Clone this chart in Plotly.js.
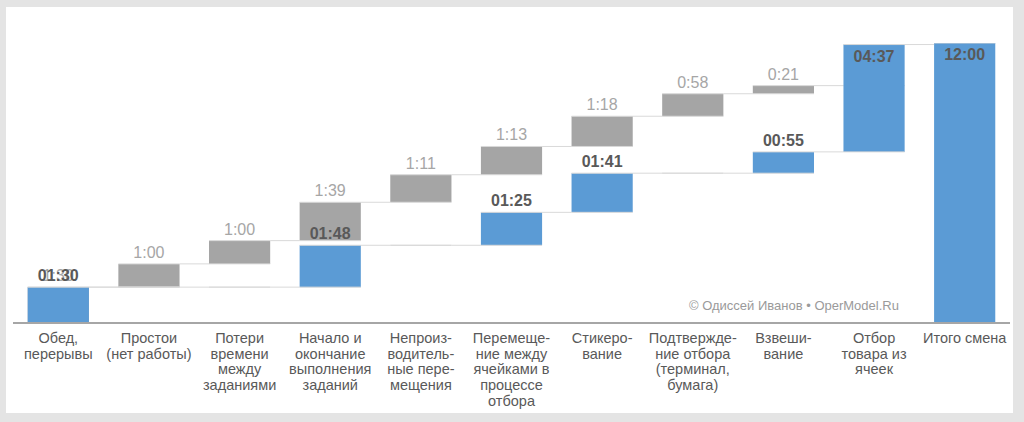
<!DOCTYPE html>
<html>
<head>
<meta charset="utf-8">
<script src="https://cdn.plot.ly/plotly-3.0.1.min.js"></script>
<style>
  html, body { margin: 0; padding: 0; background: #e4e4e4; width: 1024px; height: 422px; overflow: hidden; }
  #card { position: absolute; left: 6px; top: 7px; width: 1007px; height: 406px; background: #ffffff; }
  #chart { position: absolute; left: 0; top: 0; width: 1024px; height: 422px; }
</style>
</head>
<body>
<div id="card"></div>
<div id="chart"></div>
<script>
// ---- data ----
const categories = [
  "Обед, перерывы",
  "Простои (нет работы)",
  "Потери времени между заданиями",
  "Начало и окончание выполнения заданий",
  "Непроизводительные перемещения",
  "Перемещение между ячейками в процессе отбора",
  "Стикерование",
  "Подтверждение отбора (терминал, бумага)",
  "Взвешивание",
  "Отбор товара из ячеек",
  "Итого смена"
];
const tickLabels = [
  "Обед,<br>перерывы",
  "Простои<br>(нет работы)",
  "Потери<br>времени<br>между<br>заданиями",
  "Начало и<br>окончание<br>выполнения<br>заданий",
  "Непроиз-<br>водитель-<br>ные пере-<br>мещения",
  "Перемеще-<br>ние между<br>ячейками в<br>процессе<br>отбора",
  "Стикеро-<br>вание",
  "Подтвержде-<br>ние отбора<br>(терминал,<br>бумага)",
  "Взвеши-<br>вание",
  "Отбор<br>товара из<br>ячеек",
  "Итого смена"
];
// productive time (blue), "" = no bar in that column; last value is the shift total
const blueTimes = ["01:30", "", "", "01:48", "", "01:25", "01:41", "", "00:55", "04:37", "12:00"];
// losses (gray), cumulative on top of the first 1:30
const grayTimes = ["1:30", "1:00", "1:00", "1:39", "1:11", "1:13", "1:18", "0:58", "0:21", ""];
const watermark = "© Одиссей Иванов • OperModel.Ru";

// ---- helpers ----
function toMin(s) {
  if (!s) return 0;
  const p = s.split(":");
  return parseInt(p[0], 10) * 60 + parseInt(p[1], 10);
}

const BLUE = "#5b9bd5";
const GRAY = "#a5a5a5";
const FONT = "Liberation Sans, Arial, sans-serif";

const grayX = categories.slice(0, grayTimes.length);
const grayTrace = {
  type: "waterfall",
  x: grayX,
  y: grayTimes.map(toMin),
  measure: grayTimes.map(() => "relative"),
  text: grayTimes,
  texttemplate: "%{text}",
  textposition: grayTimes.map(() => "outside"),
  outsidetextfont: { family: FONT, size: 16, color: "#a6a6a6" },
  cliponaxis: false,
  increasing: { marker: { color: GRAY } },
  decreasing: { marker: { color: GRAY } },
  totals: { marker: { color: GRAY } },
  connector: { mode: "spanning", line: { color: "#d9d9d9", width: 1 } },
  hoverinfo: "skip",
  showlegend: false
};

const blueTrace = {
  type: "waterfall",
  x: categories,
  y: blueTimes.map(toMin),
  measure: blueTimes.map((t, i) => i === blueTimes.length - 1 ? "absolute" : "relative"),
  text: blueTimes,
  texttemplate: "%{text}",
  textposition: blueTimes.map((t, i) => i >= blueTimes.length - 2 ? "inside" : "outside"),
  insidetextanchor: "end",
  outsidetextfont: { family: FONT, size: 16, color: "#595959", weight: "bold" },
  insidetextfont: { family: FONT, size: 16, color: "#595959", weight: "bold" },
  textangle: 0,
  constraintext: "none",
  cliponaxis: false,
  increasing: { marker: { color: BLUE } },
  decreasing: { marker: { color: BLUE } },
  totals: { marker: { color: BLUE } },
  connector: { mode: "spanning", line: { color: "#d9d9d9", width: 1 } },
  hoverinfo: "skip",
  showlegend: false
};

const layout = {
  width: 1024,
  height: 422,
  margin: { l: 13, r: 14, t: 43, b: 100, pad: 0 },
  paper_bgcolor: "rgba(0,0,0,0)",
  plot_bgcolor: "rgba(0,0,0,0)",
  waterfallmode: "overlay",
  waterfallgap: 0.325,
  font: { family: FONT, size: 13, color: "#595959" },
  xaxis: {
    type: "category",
    categoryorder: "array",
    categoryarray: categories,
    tickvals: categories,
    ticktext: tickLabels,
    showgrid: false,
    zeroline: false,
    showline: true,
    linecolor: "#a6a6a6",
    linewidth: 1.5,
    ticks: "",
    ticklabelstandoff: 2,
    tickfont: { family: FONT, size: 14.5, color: "#595959" },
    fixedrange: true
  },
  yaxis: {
    range: [0, 720],
    visible: false,
    showgrid: false,
    zeroline: false,
    fixedrange: true
  },
  annotations: [{
    text: watermark,
    xref: "paper", yref: "paper",
    x: 0.783, y: 0.06,
    xanchor: "center", yanchor: "middle",
    showarrow: false,
    font: { family: FONT, size: 13, color: "#9a9a9a" }
  }]
};

Plotly.newPlot("chart", [grayTrace, blueTrace], layout, { staticPlot: true, displayModeBar: false })
  .then(function (gd) {
    // tighter line spacing for the multi-line category labels, as in the original chart
    gd.querySelectorAll(".xtick text tspan.line").forEach(function (t) {
      var dy = t.getAttribute("dy");
      if (dy) {
        var n = parseFloat(dy);
        if (n) t.setAttribute("dy", (n / 1.3 * 1.08).toFixed(3) + "em");
      }
    });
  });
</script>
</body>
</html>
